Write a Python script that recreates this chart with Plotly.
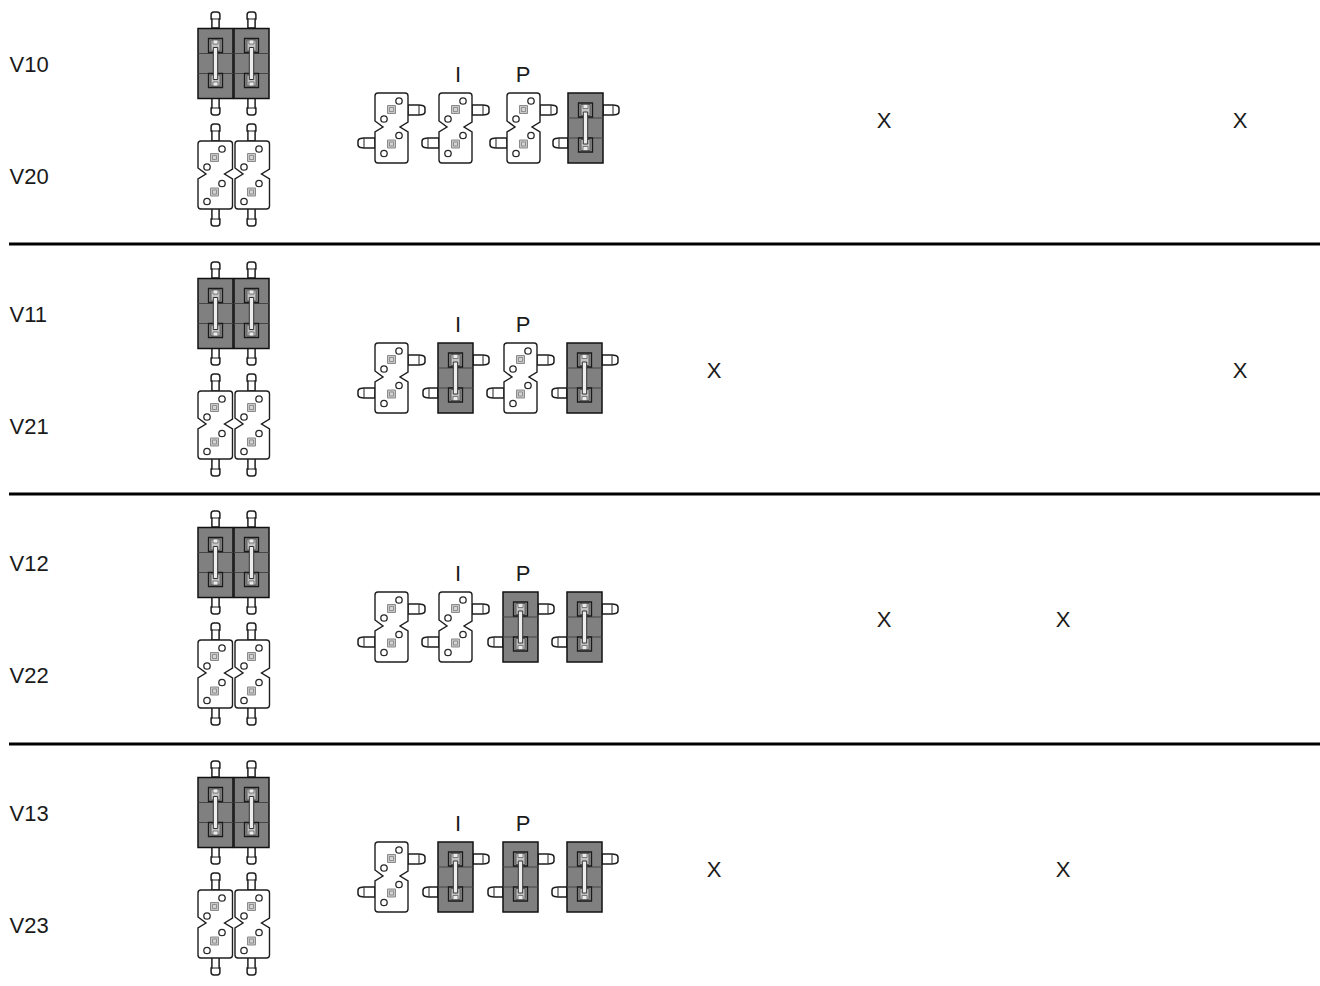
import plotly.graph_objects as go

# ---- table content -------------------------------------------------------
upper_labels = ["V10", "V11", "V12", "V13"]
lower_labels = ["V20", "V21", "V22", "V23"]
i_closed = [0, 1, 0, 1]
p_closed = [0, 0, 1, 1]
col_a = ["", "X", "", "X"]
col_b = ["X", "", "X", ""]
col_c = ["", "", "X", "X"]
col_d = ["X", "X", "", ""]
header_i = "I"
header_p = "P"

# ---- layout grid ---------------------------------------------------------
W, H = 1320, 986
row_top = [0, 250, 499, 749]
rule_y = [244, 494, 744]
xcol = [714, 884, 1063, 1240]
pair_x = [198, 234]
unit_x = [[375, 439, 507, 568], [375, 438, 504, 567], [375, 439, 503, 567], [375, 438, 503, 567]]
DARK = "#808080"
INK = "#1e1e1e"
shapes = []


def path(d, fill="rgba(0,0,0,0)", color=INK, width=1.3):
    shapes.append(dict(type="path", path=d, xref="x", yref="y", fillcolor=fill,
                       line=dict(color=color, width=width)))


def rect(x0, y0, x1, y1, fill="rgba(0,0,0,0)", color=INK, width=1.3):
    shapes.append(dict(type="rect", x0=x0, y0=y0, x1=x1, y1=y1, xref="x", yref="y",
                       fillcolor=fill, line=dict(color=color, width=width)))


def circle(cx, cy, r=3.2):
    shapes.append(dict(type="circle", x0=cx - r, y0=cy - r, x1=cx + r, y1=cy + r, xref="x", yref="y",
                       fillcolor="white", line=dict(color="#2a2a2a", width=1.3)))


def pin_v(cx, y0, length, direction):
    """vertical pin leaving a body at y0; direction -1 up, +1 down"""
    w = 3.6
    hw = 4.4
    e = y0 + direction * length
    s = y0 + direction * (length - 7)
    c = e - direction * 3
    path(f"M {cx-w} {y0} L {cx-w} {s} L {cx-hw} {s} L {cx-hw} {c} Q {cx-hw} {e} {cx-1.6} {e} L {cx+1.6} {e} "
         f"Q {cx+hw} {e} {cx+hw} {c} L {cx+hw} {s} L {cx+w} {s} L {cx+w} {y0} Z", fill="white", width=1.5)
    path(f"M {cx-w} {s} L {cx+w} {s}", width=1.1, color="#333")


def pin_h(y, x0, length, direction):
    """horizontal pin leaving a body at x0; direction -1 left, +1 right"""
    h = 5
    e = x0 + direction * length
    s = x0 + direction * (length - 6)
    c = e - direction * 2.5
    path(f"M {x0} {y-h} L {s} {y-h} L {c} {y-h+0.6} Q {e} {y-h+1} {e} {y-1.5} L {e} {y+1.5} "
         f"Q {e} {y+h-1} {c} {y+h-0.6} L {s} {y+h} L {x0} {y+h} Z", fill="white", width=1.5)
    path(f"M {s} {y-h} L {s} {y+h}", width=1.1, color="#333")


def open_body(x, y, w=35, h=68):
    m = h / 2 - 1
    path(
        f"M {x+3} {y} L {x+w-3} {y} Q {x+w} {y} {x+w} {y+3} L {x+w} {y+m-5} L {x+w-8} {y+m} L {x+w} {y+m+5} "
        f"L {x+w} {y+h-3} Q {x+w} {y+h} {x+w-3} {y+h} L {x+3} {y+h} Q {x} {y+h} {x} {y+h-3} L {x} {y+m+5} "
        f"L {x+8} {y+m} L {x} {y+m-6} L {x} {y+3} Q {x} {y} {x+3} {y} Z",
        fill="white", width=1.4,
    )
    for dy in (0, 34.5):
        rect(x + 12.5, y + 12.5 + dy, x + 20.5, y + 20.5 + dy, fill="#c8c8c8", color="#8a8a8a", width=1)
        rect(x + 14.5, y + 14.5 + dy, x + 18.5, y + 18.5 + dy, fill="#d4d4d4", color="#777", width=0.7)
        circle(x + 24, y + 8 + dy)
        circle(x + 9, y + 26 + dy)


def closed_body(x, y, w=35, h=70):
    rect(x, y, x + w, y + h, fill=DARK, color="#111", width=1.5)
    path(f"M {x} {y+25} L {x+w} {y+25}", color="#444", width=1)
    path(f"M {x} {y+45} L {x+w} {y+45}", color="#444", width=1)
    c = x + w / 2
    for y0, tip in ((y + 10, 1.5), (y + 45, 8.5)):
        rect(c - 7, y0, c + 7, y0 + 14, fill="#8c8c8c", color="#1a1a1a", width=1.3)
        rect(c - 4.5, y0 + 1.5, c + 4.5, y0 + 12.5, fill="#c4c4c4", color="#444", width=0.8)
        rect(c - 2.5, y0 + tip, c + 2.5, y0 + tip + 4, fill="#ececec", color="#555", width=0.7)
    rect(c - 2.2, y + 19, c + 2.2, y + 51, fill="#ededed", color="#333", width=1)


for r in range(4):
    t = row_top[r]
    # vertical pairs: closed above, open below
    for k, x in enumerate(pair_x):
        pin_v(x + 17.5, t + 28, 16, -1)
        pin_v(x + 17.5, t + 98, 17, 1)
        closed_body(x, t + 28.5)
        pin_v(x + 17.5, t + 141, 17, -1)
        pin_v(x + 17.5, t + 208, 18, 1)
        open_body(x + k, t + 141, w=34.5)
    # horizontal row of four
    states = [0, i_closed[r], p_closed[r], 1]
    for x, closed in zip(unit_x[r], states):
        if closed:
            pin_h(t + 110, x + 35, 16, 1)
            pin_h(t + 143, x, 15, -1)
            closed_body(x, t + 93)
        else:
            pin_h(t + 110, x + 33, 17, 1)
            pin_h(t + 143, x, 17, -1)
            open_body(x, t + 93, w=33, h=70)

for y in rule_y:
    shapes.append(dict(type="line", x0=9, x1=W, y0=y, y1=y, xref="x", yref="y",
                       line=dict(color="black", width=3)))

fig = go.Figure()
font = dict(family="Liberation Sans", size=22, color="#1a1a1a")

fig.add_trace(go.Scatter(
    x=[9.5] * 8,
    y=[t + 66 for t in row_top] + [t + 178.5 for t in row_top],
    text=upper_labels + lower_labels,
    mode="text", textposition="middle right", textfont=font, hoverinfo="skip"))
fig.add_trace(go.Scatter(
    x=[458] * 4 + [523] * 4,
    y=[t + 76 for t in row_top] * 2,
    text=[header_i] * 4 + [header_p] * 4,
    mode="text", textposition="middle center", textfont=font, hoverinfo="skip"))
for cx, col in zip(xcol, (col_a, col_b, col_c, col_d)):
    fig.add_trace(go.Scatter(
        x=[cx] * 4, y=[t + 122 for t in row_top], text=col,
        mode="text", textposition="middle center", textfont=font, hoverinfo="skip"))

fig.update_layout(
    width=W, height=H, margin=dict(l=0, r=0, t=0, b=0), showlegend=False,
    paper_bgcolor="white", plot_bgcolor="white", shapes=shapes,
    xaxis=dict(range=[0, W], visible=False, fixedrange=True),
    yaxis=dict(range=[H, 0], visible=False, fixedrange=True),
)
fig.write_html("out.html", config={"displayModeBar": False},
               post_script="document.body.style.margin='0';")
